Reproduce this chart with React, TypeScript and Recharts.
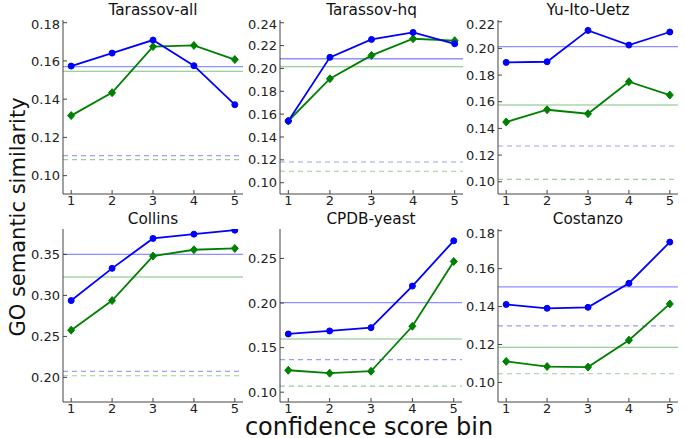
import React from "react";
import {
  LineChart,
  Line,
  XAxis,
  YAxis,
  ReferenceLine,
} from "recharts";

const bins = [1, 2, 3, 4, 5];
const binTicks = [1, 2, 3, 4, 5];

const datasets = [
  "Tarassov-all",
  "Tarassov-hq",
  "Yu-Ito-Uetz",
  "Collins",
  "CPDB-yeast",
  "Costanzo",
];

// blue: circles, green: diamonds
const blueValues = [
  [0.1573, 0.1641, 0.1709, 0.1575, 0.1371],
  [0.154, 0.2097, 0.2254, 0.2315, 0.2216],
  [0.1895, 0.19, 0.2135, 0.2025, 0.2123],
  [0.2937, 0.333, 0.3695, 0.3747, 0.3796],
  [0.1653, 0.1687, 0.1724, 0.219, 0.2698],
  [0.1411, 0.1391, 0.1396, 0.1523, 0.174],
];

const greenValues = [
  [0.1314, 0.1434, 0.1675, 0.1681, 0.1607],
  [0.154, 0.191, 0.2114, 0.226, 0.2243],
  [0.1448, 0.154, 0.151, 0.175, 0.165],
  [0.2576, 0.2937, 0.348, 0.3557, 0.3573],
  [0.1246, 0.1213, 0.1235, 0.1739, 0.2466],
  [0.1111, 0.1084, 0.1081, 0.1223, 0.1414],
];

// baselines: [blue solid, green solid, blue dashed, green dashed]
const baselines = [
  [0.157, 0.1546, 0.1105, 0.1084],
  [0.2085, 0.2015, 0.1181, 0.11],
  [0.2013, 0.1575, 0.1268, 0.1018],
  [0.35, 0.3224, 0.2073, 0.202],
  [0.2004, 0.1597, 0.1366, 0.1067],
  [0.1504, 0.1186, 0.1298, 0.1046],
];

const yDomains = [
  [0.0904, 0.1814],
  [0.0901, 0.2424],
  [0.0908, 0.2213],
  [0.17, 0.381],
  [0.089, 0.283],
  [0.0897, 0.1809],
];

const yTicks = [
  [0.1, 0.12, 0.14, 0.16, 0.18],
  [0.1, 0.12, 0.14, 0.16, 0.18, 0.2, 0.22, 0.24],
  [0.1, 0.12, 0.14, 0.16, 0.18, 0.2, 0.22],
  [0.2, 0.25, 0.3, 0.35],
  [0.1, 0.15, 0.2, 0.25],
  [0.1, 0.12, 0.14, 0.16, 0.18],
];

// plot boxes: left, top, width, height
const boxes = [
  [63, 20, 180, 174],
  [280, 20, 183, 174],
  [498, 20, 180, 174],
  [63, 229, 180, 173],
  [280, 229, 182, 173],
  [498, 229, 180, 173],
];

const FONT = "'DejaVu Sans', sans-serif";
const AXIS_W = 50;
const PAD_T = 4;
const PAD_R = 6;
const AXIS_H = 22;

const Diamond = (props: any) => {
  const { cx, cy } = props;
  if (cx == null || cy == null) return null;
  return (
    <path
      d={`M${cx},${cy - 4}L${cx + 3.5},${cy}L${cx},${cy + 4}L${cx - 3.5},${cy}Z`}
      fill="#008000"
      stroke="#008000"
      strokeWidth={1}
    />
  );
};

function Panel({ idx }: { idx: number }) {
  const [left, top, w, h] = boxes[idx];
  const data = bins.map((b, i) => ({
    bin: b,
    blue: blueValues[idx][i],
    green: greenValues[idx][i],
  }));
  const [bSolid, gSolid, bDash, gDash] = baselines[idx];
  const tickStyle = { fontSize: 13, fill: "#222", fontFamily: FONT };

  return (
    <>
      <div
        style={{
          position: "absolute",
          left,
          top: top - 20,
          width: w,
          textAlign: "center",
          fontFamily: FONT,
          fontSize: 15.3,
          lineHeight: "20px",
          color: "#111",
        }}
      >
        {datasets[idx]}
      </div>
      <div style={{ position: "absolute", left: left - AXIS_W, top: top - PAD_T }}>
        <LineChart
          width={w + AXIS_W + PAD_R}
          height={h + PAD_T + AXIS_H}
          data={data}
          margin={{ top: PAD_T, right: PAD_R, left: 0, bottom: 0 }}
        >
          <XAxis
            xAxisId="b"
            dataKey="bin"
            type="number"
            domain={[0.8, 5.2]}
            ticks={binTicks}
            height={AXIS_H}
            tickSize={-4}
            tickMargin={6}
            stroke="#444"
            tick={tickStyle}
          />
          <XAxis
            xAxisId="t"
            orientation="top"
            type="number"
            domain={[0.8, 5.2]}
            ticks={binTicks}
            height={0}
            tickSize={-4}
            tickFormatter={() => ""}
            stroke="#444"
          />
          <YAxis
            yAxisId="l"
            type="number"
            domain={yDomains[idx]}
            ticks={yTicks[idx]}
            allowDataOverflow
            width={AXIS_W}
            tickSize={-4}
            tickMargin={7}
            stroke="#444"
            tick={tickStyle}
            tickFormatter={(v: number) => v.toFixed(2)}
          />
          <YAxis
            yAxisId="r"
            orientation="right"
            type="number"
            domain={yDomains[idx]}
            ticks={yTicks[idx]}
            allowDataOverflow
            width={0}
            tickSize={-4}
            tickFormatter={() => ""}
            stroke="#444"
          />
          <ReferenceLine
            xAxisId="b"
            yAxisId="l"
            y={bSolid}
            stroke="#8f8fff"
            strokeWidth={1.3}
          />
          <ReferenceLine
            xAxisId="b"
            yAxisId="l"
            y={gSolid}
            stroke="#7ec17e"
            strokeWidth={1.1}
          />
          <ReferenceLine
            xAxisId="b"
            yAxisId="l"
            y={bDash}
            stroke="#9d9dff"
            strokeWidth={1.2}
            strokeDasharray="5 4"
          />
          <ReferenceLine
            xAxisId="b"
            yAxisId="l"
            y={gDash}
            stroke="#9fcc9f"
            strokeWidth={1.2}
            strokeDasharray="5 4"
          />
          <Line
            xAxisId="b"
            yAxisId="l"
            dataKey="green"
            stroke="#008000"
            strokeWidth={1.8}
            dot={<Diamond />}
            isAnimationActive={false}
          />
          <Line
            xAxisId="b"
            yAxisId="l"
            dataKey="blue"
            stroke="#0000ff"
            strokeWidth={1.8}
            dot={{ r: 3, fill: "#0000ff", stroke: "#0000ff", strokeWidth: 1 }}
            isAnimationActive={false}
          />
        </LineChart>
      </div>
    </>
  );
}

export default function App() {
  return (
    <div
      style={{
        position: "absolute",
        left: 0,
        top: 0,
        width: 685,
        height: 438,
        background: "#fff",
        overflow: "hidden",
      }}
    >
      {datasets.map((_, i) => (
        <Panel key={i} idx={i} />
      ))}
      <div
        style={{
          position: "absolute",
          left: 18,
          top: 217,
          transform: "translate(-50%, -50%) rotate(-90deg)",
          whiteSpace: "nowrap",
          fontFamily: FONT,
          fontSize: 21,
          lineHeight: "22px",
          color: "#111",
        }}
      >
        GO semantic similarity
      </div>
      <div
        style={{
          position: "absolute",
          left: 369,
          top: 427,
          transform: "translate(-50%, -50%)",
          whiteSpace: "nowrap",
          fontFamily: FONT,
          fontSize: 24,
          lineHeight: "18px",
          color: "#111",
        }}
      >
        confidence score bin
      </div>
    </div>
  );
}
